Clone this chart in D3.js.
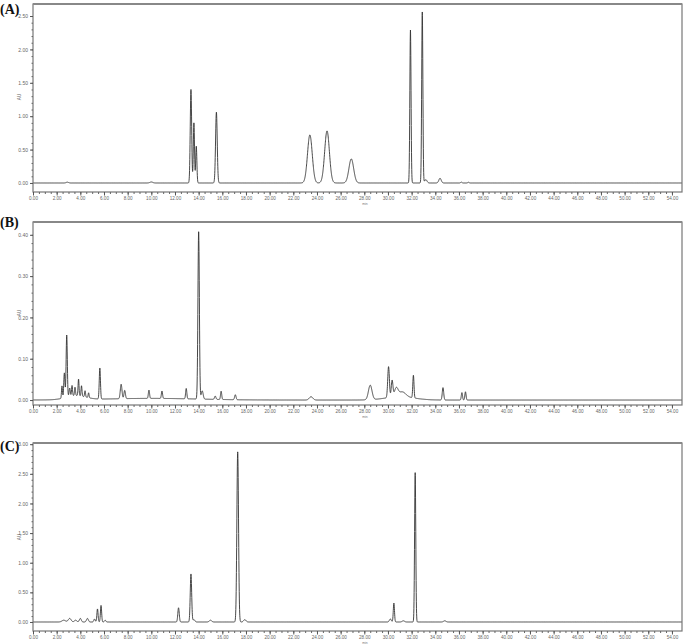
<!DOCTYPE html>
<html><head><meta charset="utf-8">
<script src="https://cdn.jsdelivr.net/npm/d3@7"></script>
<style>body{margin:0;background:#fff}svg{display:block}</style>
</head><body>
<svg id="c" width="685" height="644"></svg>
<script>
// ---- data: peaks (retention time min, height AU, width min) ----
const panelLabels = ["(A)", "(B)", "(C)"];
const xTickLabels = d3.range(0, 55, 2).map(v => v.toFixed(2));
const yTicksA = [0, 0.5, 1.0, 1.5, 2.0, 2.5];
const yTicksB = [0, 0.1, 0.2, 0.3, 0.4];
const yTicksC = [0, 0.5, 1.0, 1.5, 2.0, 2.5, 3.0];

const peakTimesA   = [2.9, 10.0, 13.35, 13.6, 13.8, 15.5, 23.4, 24.85, 26.9, 31.9, 32.9, 33.2, 34.4, 36.2, 36.8];
const peakHeightsA = [0.012, 0.015, 1.40, 0.90, 0.55, 1.06, 0.72, 0.78, 0.36, 2.29, 2.56, 0.05, 0.07, 0.012, 0.01];
const peakWidthsA  = [0.1, 0.12, 0.06, 0.05, 0.05, 0.07, 0.2, 0.2, 0.2, 0.05, 0.05, 0.1, 0.1, 0.06, 0.06];

const peakTimesB   = [2.45, 2.65, 2.85, 3.1, 3.3, 3.55, 3.85, 4.1, 4.4, 4.7, 5.65, 7.45, 7.75, 9.8, 10.9, 12.95, 14.0, 14.3, 15.4, 15.9, 17.1, 23.5, 28.5, 30.05, 30.35, 30.7, 31.2, 32.15, 34.65, 36.25, 36.55, 3.6, 10.0, 31.0];
const peakHeightsB = [0.03, 0.06, 0.15, 0.02, 0.025, 0.02, 0.04, 0.025, 0.015, 0.012, 0.075, 0.035, 0.02, 0.02, 0.018, 0.025, 0.405, 0.02, 0.008, 0.02, 0.012, 0.008, 0.035, 0.075, 0.04, 0.02, 0.012, 0.055, 0.03, 0.018, 0.02, 0.01, 0.004, 0.008];
const peakWidthsB  = [0.04, 0.05, 0.05, 0.05, 0.04, 0.04, 0.04, 0.04, 0.04, 0.04, 0.05, 0.07, 0.06, 0.05, 0.05, 0.05, 0.06, 0.08, 0.06, 0.05, 0.06, 0.15, 0.15, 0.07, 0.07, 0.15, 0.3, 0.05, 0.06, 0.05, 0.05, 0.8, 4.0, 1.2];

const peakTimesC   = [2.6, 3.1, 3.6, 4.0, 4.6, 5.2, 5.45, 5.75, 6.1, 12.3, 13.35, 13.6, 15.0, 17.3, 17.9, 30.2, 30.5, 31.3, 32.3, 34.8];
const peakHeightsC = [0.03, 0.06, 0.03, 0.06, 0.06, 0.05, 0.22, 0.28, 0.03, 0.24, 0.81, 0.04, 0.03, 2.87, 0.04, 0.05, 0.32, 0.02, 2.52, 0.02];
const peakWidthsC  = [0.15, 0.12, 0.1, 0.08, 0.08, 0.06, 0.05, 0.05, 0.06, 0.06, 0.06, 0.08, 0.1, 0.07, 0.1, 0.08, 0.05, 0.1, 0.05, 0.1];

// ---- layout ----
const panels = [
  {label: panelLabels[0], times: peakTimesA, heights: peakHeightsA, widths: peakWidthsA, yTicks: yTicksA, yMinor: 0.1,
   left: 33, right: 682, top: 4, bottom: 192, yDom: [-0.135, 2.68], labelY: 14, auY: 97},
  {label: panelLabels[1], times: peakTimesB, heights: peakHeightsB, widths: peakWidthsB, yTicks: yTicksB, yMinor: 0.02,
   left: 33, right: 682, top: 222, bottom: 405, yDom: [-0.012, 0.431], labelY: 227, auY: 313},
  {label: panelLabels[2], times: peakTimesC, heights: peakHeightsC, widths: peakWidthsC, yTicks: yTicksC, yMinor: 0.1,
   left: 33, right: 682, top: 443, bottom: 631, yDom: [-0.152, 3.02], labelY: 451, auY: 537}
];

const svg = d3.select("#c");
const tMax = 54.85;
const samples = d3.range(0, tMax + 0.001, 0.01);

panels.forEach(p => {
  const x = d3.scaleLinear().domain([0, tMax]).range([p.left, p.right]);
  const y = d3.scaleLinear().domain(p.yDom).range([p.bottom, p.top]);
  const g = svg.append("g");

  // trace from peak list
  const trace = samples.map(t => {
    let v = 0;
    for (let i = 0; i < p.times.length; i++) {
      const z = (t - p.times[i]) / p.widths[i];
      if (Math.abs(z) < 8) v += p.heights[i] * Math.exp(-0.5 * z * z);
    }
    return [t, v];
  });

  g.append("path").datum(trace)
    .attr("fill", "none").attr("stroke", "#333").attr("stroke-width", 0.9)
    .attr("d", d3.line().x(d => x(d[0])).y(d => y(d[1])));

  // frame
  g.append("rect").attr("x", p.left).attr("y", p.top)
    .attr("width", p.right - p.left).attr("height", p.bottom - p.top)
    .attr("fill", "none").attr("stroke", "#777").attr("stroke-width", 1.2);
  g.append("line").attr("x1", p.left).attr("x2", p.right).attr("y1", p.top).attr("y2", p.top)
    .attr("stroke", "#888").attr("stroke-width", 2);

  // x axis
  const xMinor = d3.range(0, 54.01, 0.5);
  g.append("g").attr("transform", `translate(0,${p.bottom})`)
    .call(d3.axisBottom(x).tickValues(xMinor).tickSize(2).tickFormat(""))
    .call(a => a.select(".domain").remove())
    .call(a => a.selectAll("line").attr("stroke", "#666"));
  g.append("g").attr("transform", `translate(0,${p.bottom})`)
    .call(d3.axisBottom(x).tickValues(xTickLabels.map(Number)).tickSize(3.5).tickPadding(0.8)
      .tickFormat((d, i) => xTickLabels[i]))
    .call(a => a.select(".domain").remove())
    .call(a => a.selectAll("line").attr("stroke", "#555"))
    .call(a => a.selectAll("text").attr("font-size", "4.6px").attr("fill", "#666")
      .attr("font-family", "Liberation Sans, Arial, sans-serif"));
  g.append("text").attr("x", x(28.05)).attr("y", p.bottom + 12.6)
    .attr("text-anchor", "middle").attr("font-size", "3.4px").attr("fill", "#777")
    .attr("font-family", "Liberation Sans, Arial, sans-serif").text("min");

  // y axis
  const yMinorVals = d3.range(p.yTicks[0], p.yTicks[p.yTicks.length - 1] + 1e-9, p.yMinor);
  g.append("g").attr("transform", `translate(${p.left},0)`)
    .call(d3.axisLeft(y).tickValues(yMinorVals).tickSize(1.5).tickFormat(""))
    .call(a => a.select(".domain").remove())
    .call(a => a.selectAll("line").attr("stroke", "#666"));
  g.append("g").attr("transform", `translate(${p.left},0)`)
    .call(d3.axisLeft(y).tickValues(p.yTicks).tickSize(3).tickPadding(2).tickFormat(d3.format(".2f")))
    .call(a => a.select(".domain").remove())
    .call(a => a.selectAll("line").attr("stroke", "#555"))
    .call(a => a.selectAll("text").attr("font-size", "5px").attr("fill", "#666")
      .attr("font-family", "Liberation Sans, Arial, sans-serif"));
  g.append("text").attr("transform", `translate(${p.left - 12},${p.auY}) rotate(-90)`)
    .attr("text-anchor", "middle").attr("font-size", "4.5px").attr("fill", "#666")
    .attr("font-family", "Liberation Sans, Arial, sans-serif").text("AU");

  // panel label
  svg.append("text").attr("x", 0).attr("y", p.labelY)
    .attr("font-family", "Liberation Serif, Times New Roman, serif").attr("font-weight", "bold")
    .attr("font-size", "14px").attr("fill", "#111").text(p.label);
});
</script>
</body></html>
